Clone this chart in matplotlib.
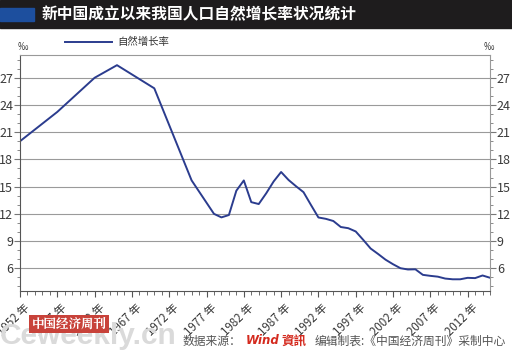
import matplotlib.pyplot as plt
import matplotlib.ticker as ticker
from matplotlib.transforms import ScaledTranslation
from matplotlib.patches import Rectangle

plt.rcParams['font.family'] = ['Noto Sans CJK SC', 'DejaVu Sans']

# 自然增长率 (‰)
years = [1952, 1957, 1962, 1965, 1970, 1975, 1978, 1979, 1980, 1981, 1982,
         1983, 1984, 1985, 1986, 1987, 1988, 1989, 1990, 1991, 1992, 1993,
         1994, 1995, 1996, 1997, 1998, 1999, 2000, 2001, 2002, 2003, 2004,
         2005, 2006, 2007, 2008, 2009, 2010, 2011, 2012, 2013, 2014, 2015]
rate = [20.0, 23.23, 26.99, 28.38, 25.83, 15.69, 12.0, 11.61, 11.87, 14.55, 15.68,
        13.29, 13.08, 14.26, 15.57, 16.61, 15.73, 15.04, 14.39, 12.98, 11.60, 11.45,
        11.21, 10.55, 10.42, 10.06, 9.14, 8.18, 7.58, 6.95, 6.45, 6.01, 5.87,
        5.89, 5.28, 5.17, 5.08, 4.87, 4.79, 4.79, 4.95, 4.92, 5.21, 4.96]
xtick_years = list(range(1952, 2013, 5))
ytick_vals = [6, 9, 12, 15, 18, 21, 24, 27]

title = '新中国成立以来我国人口自然增长率状况统计'
series_name = '自然增长率'

fig = plt.figure(figsize=(5.12, 3.53), dpi=100)

# title bar
fig.patches.append(Rectangle((0, 1 - 28 / 353), 1, 28 / 353, transform=fig.transFigure,
                             color='#1e1c1d', zorder=0))
fig.patches.append(Rectangle((0, 1 - 21 / 353), 34 / 512, 13 / 353, transform=fig.transFigure,
                             color='#1d4f9e', zorder=1))
fig.text(42 / 512, 1 - 14 / 353, title, color='white', fontsize=11.3, fontweight='bold',
         va='center', ha='left')

ax = fig.add_axes([20 / 512, 62 / 353, 470 / 512, 236 / 353])
line, = ax.plot(years, rate, color='#2b3c8e', lw=1.4)
ax.set_xlim(1952, 2015)
ax.set_ylim(3.5, 29.5)

ax.set_yticks(ytick_vals)
ax.yaxis.set_minor_locator(ticker.MultipleLocator(1))
ax.set_xticks(xtick_years)
ax.set_xticklabels([f'{y} 年' for y in xtick_years])
ax.xaxis.set_minor_locator(ticker.MultipleLocator(1))
ax.grid(axis='y', color='#9a9a9a', lw=0.8)

ax.tick_params(axis='y', which='both', left=True, right=True, labelleft=True, labelright=True,
               direction='out', colors='#777777', labelcolor='#3a3a3a', labelsize=9, pad=1)
ax.tick_params(axis='y', which='major', length=4)
ax.tick_params(axis='y', which='minor', length=2)
ax.tick_params(axis='x', which='both', direction='out', colors='#555555', labelcolor='#3a3a3a',
               labelsize=8.3)
ax.tick_params(axis='x', which='major', length=4, pad=3)
ax.tick_params(axis='x', which='minor', length=3)
for lab in ax.get_xticklabels():
    lab.set_rotation(45)
    lab.set_ha('right')
    lab.set_transform(lab.get_transform() + ScaledTranslation(9 / 72, 0, fig.dpi_scale_trans))

for side in ['left', 'bottom']:
    ax.spines[side].set_color('#555555')
for side in ['right', 'top']:
    ax.spines[side].set_color('#999999')

# unit labels and legend
fig.text(18 / 512, 1 - 47 / 353, '‰', fontsize=7.5, color='#333333', ha='left', va='center')
fig.text(484 / 512, 1 - 47 / 353, '‰', fontsize=7.5, color='#333333', ha='left', va='center')
fig.lines.append(plt.Line2D([65 / 512, 112 / 512], [1 - 42 / 353, 1 - 42 / 353],
                            transform=fig.transFigure, color='#2b3c8e', lw=1.4))
fig.text(117 / 512, 1 - 42 / 353, series_name, fontsize=7.5, color='#333333', ha='left', va='center')

# footer
fig.text(0, 1 - 336 / 353, 'Ceweekly.cn', fontsize=21.5, color='#dadada', fontweight='bold',
         family='Liberation Sans', ha='left', va='center', zorder=1)
fig.text(69 / 512, 1 - 324 / 353, '中国经济周刊', fontsize=9, color='white', fontweight='bold',
         family=['Noto Serif CJK SC', 'Noto Sans CJK SC'], ha='center', va='center', zorder=3,
         bbox=dict(boxstyle='square,pad=0.2', fc='#c8423a', ec='none'))
fig.text(183 / 512, 1 - 341 / 353, '数据来源：', fontsize=8.5, color='#555555', ha='left', va='center')
fig.text(246 / 512, 1 - 341 / 353, 'Wind', fontsize=8.5, color='#d42a1e', fontweight='bold',
         style='italic', family='DejaVu Sans', ha='left', va='center')
fig.text(281 / 512, 1 - 341 / 353, '資訊', fontsize=9, color='#d42a1e', fontweight='bold',
         family=['Noto Sans CJK TC', 'DejaVu Sans'], ha='left', va='center')
fig.text(315 / 512, 1 - 341 / 353, '编辑制表:《中国经济周刊》采制中心', fontsize=8.5, color='#555555',
         ha='left', va='center')

fig.savefig('out.png', dpi=100)
